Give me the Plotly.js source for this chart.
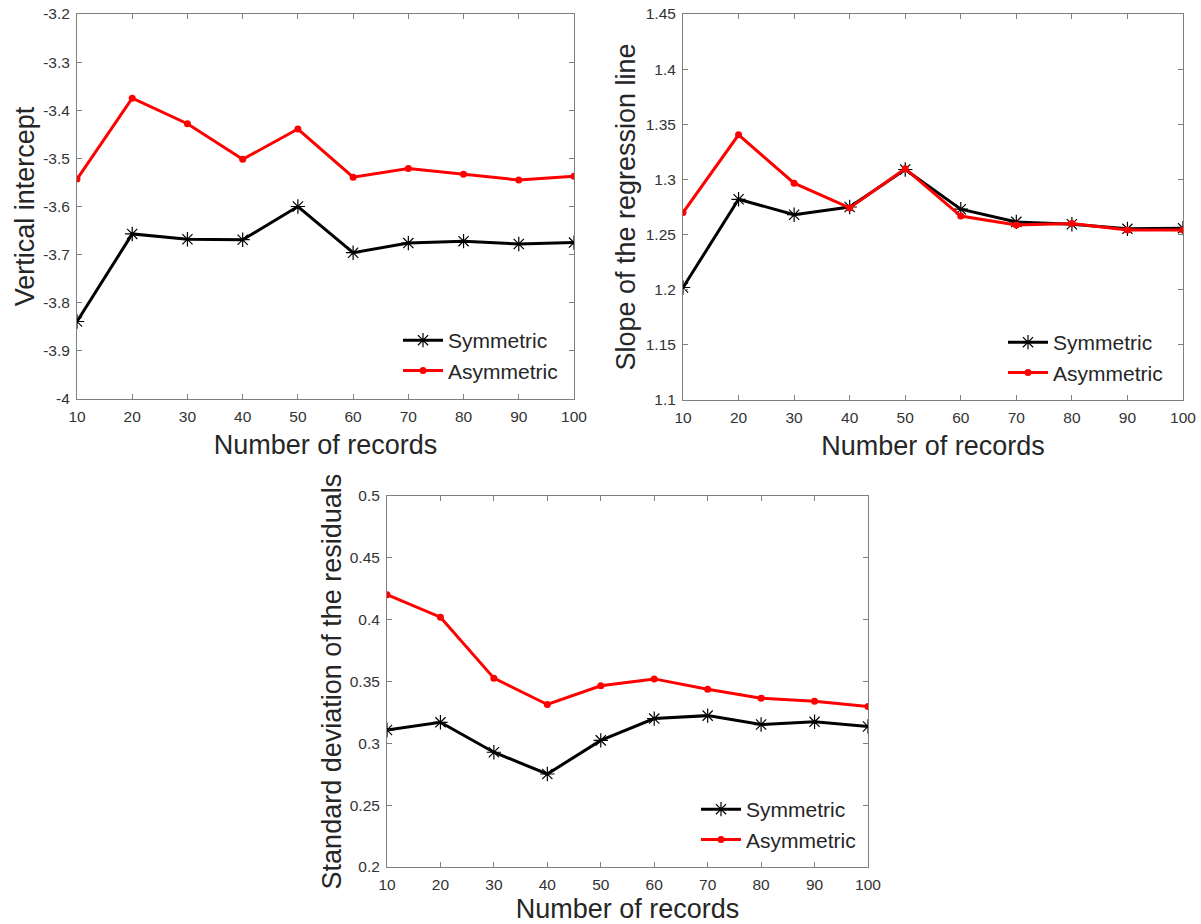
<!DOCTYPE html>
<html>
<head>
<meta charset="utf-8">
<script src="https://cdn.plot.ly/plotly-3.0.1.min.js"></script>
<style>html,body{margin:0;padding:0;background:#fff;}#chart{width:1201px;height:924px;}</style>
</head>
<body>
<div id="chart"></div>
<script>
// ---- data ----
const records = [10, 20, 30, 40, 50, 60, 70, 80, 90, 100];
const seriesNames = ["Symmetric", "Asymmetric"];

const interceptSym  = [-3.839, -3.657, -3.668, -3.669, -3.600, -3.696, -3.676, -3.672, -3.678, -3.675];
const interceptAsym = [-3.543, -3.375, -3.428, -3.502, -3.439, -3.539, -3.521, -3.533, -3.545, -3.537];

const slopeSym  = [1.202, 1.282, 1.268, 1.275, 1.309, 1.273, 1.2615, 1.2594, 1.2552, 1.2558];
const slopeAsym = [1.270, 1.3405, 1.2966, 1.2742, 1.3097, 1.2668, 1.2586, 1.2601, 1.2542, 1.2542];

const stdSym  = [0.3108, 0.3170, 0.2928, 0.2752, 0.3024, 0.3200, 0.3224, 0.3152, 0.3174, 0.3136];
const stdAsym = [0.4202, 0.4020, 0.3527, 0.3314, 0.3465, 0.3521, 0.3437, 0.3365, 0.3341, 0.3297];

const xTickVals = [10, 20, 30, 40, 50, 60, 70, 80, 90, 100];
const xTickText = ["10", "20", "30", "40", "50", "60", "70", "80", "90", "100"];
const y1TickVals = [-4, -3.9, -3.8, -3.7, -3.6, -3.5, -3.4, -3.3, -3.2];
const y1TickText = ["-4", "-3.9", "-3.8", "-3.7", "-3.6", "-3.5", "-3.4", "-3.3", "-3.2"];
const y2TickVals = [1.1, 1.15, 1.2, 1.25, 1.3, 1.35, 1.4, 1.45];
const y2TickText = ["1.1", "1.15", "1.2", "1.25", "1.3", "1.35", "1.4", "1.45"];
const y3TickVals = [0.2, 0.25, 0.3, 0.35, 0.4, 0.45, 0.5];
const y3TickText = ["0.2", "0.25", "0.3", "0.35", "0.4", "0.45", "0.5"];

const xTitle = "Number of records";
const y1Title = "Vertical intercept";
const y2Title = "Slope of the regression line";
const y3Title = "Standard deviation of the residuals";

// ---- styles ----
const FONT = "Liberation Sans, Arial, sans-serif";
const symStyle = {
  mode: "lines+markers",
  line: {color: "#000000", width: 3},
  marker: {symbol: "asterisk-open", size: 12, color: "#000000", line: {color: "#000000", width: 1.2}}
};
const asymStyle = {
  mode: "lines+markers",
  line: {color: "#ff0000", width: 3},
  marker: {symbol: "circle", size: 7, color: "#ff0000"}
};

function mk(y, style, name, xa, ya, leg) {
  return Object.assign({x: records, y: y, name: name, xaxis: xa, yaxis: ya, legend: leg, type: "scatter"}, JSON.parse(JSON.stringify(style)));
}

const traces = [
  mk(interceptSym, symStyle, seriesNames[0], "x", "y", "legend"),
  mk(interceptAsym, asymStyle, seriesNames[1], "x", "y", "legend"),
  mk(slopeSym, symStyle, seriesNames[0], "x2", "y2", "legend2"),
  mk(slopeAsym, asymStyle, seriesNames[1], "x2", "y2", "legend2"),
  mk(stdSym, symStyle, seriesNames[0], "x3", "y3", "legend3"),
  mk(stdAsym, asymStyle, seriesNames[1], "x3", "y3", "legend3")
];

const axisCommon = {
  showline: true, linecolor: "#7f7f7f", linewidth: 1, mirror: "ticks",
  ticks: "inside", ticklen: 5, tickcolor: "#7f7f7f", tickwidth: 1,
  showgrid: false, zeroline: false, automargin: false,
  tickfont: {family: FONT, size: 15.5, color: "#333333"},
  ticklabelstandoff: 3
};
function xa(domain, anchor) {
  return Object.assign({}, axisCommon, {
    domain: domain, anchor: anchor, range: [10, 100],
    tickmode: "array", tickvals: xTickVals, ticktext: xTickText,
    title: {text: xTitle, font: {family: FONT, size: 27, color: "#262626"}, standoff: 11}
  });
}
function ya(domain, anchor, range, tv, tt, title, so) {
  return Object.assign({}, axisCommon, {
    domain: domain, anchor: anchor, range: range,
    tickmode: "array", tickvals: tv, ticktext: tt,
    title: {text: title, font: {family: FONT, size: 27, color: "#262626"}, standoff: so}
  });
}

const legendCommon = {
  bgcolor: "rgba(255,255,255,0)", borderwidth: 0,
  font: {family: FONT, size: 21, color: "#262626"},
  xanchor: "left", yanchor: "top", tracegroupgap: 0, itemwidth: 40
};

const layout = {
  width: 1201, height: 924,
  margin: {l: 0, r: 0, t: 0, b: 0},
  paper_bgcolor: "#ffffff", plot_bgcolor: "#ffffff",
  showlegend: true,
  xaxis:  xa([77/1201, 574/1201], "y"),
  yaxis:  ya([1 - 399/924, 1 - 14/924], "x", [-4, -3.2], y1TickVals, y1TickText, y1Title, 0),
  xaxis2: xa([683/1201, 1183/1201], "y2"),
  yaxis2: ya([1 - 400/924, 1 - 14/924], "x2", [1.1, 1.45], y2TickVals, y2TickText, y2Title, 2),
  xaxis3: xa([387/1201, 868/1201], "y3"),
  yaxis3: ya([1 - 867/924, 1 - 496/924], "x3", [0.2, 0.5], y3TickVals, y3TickText, y3Title, 0),
  legend:  Object.assign({}, legendCommon, {x: 398/1201, y: 1 - 320/924}),
  legend2: Object.assign({}, legendCommon, {x: 1003/1201, y: 1 - 322/924}),
  legend3: Object.assign({}, legendCommon, {x: 696/1201, y: 1 - 789/924})
};

Plotly.newPlot("chart", traces, layout, {displayModeBar: false, staticPlot: true});
</script>
</body>
</html>
